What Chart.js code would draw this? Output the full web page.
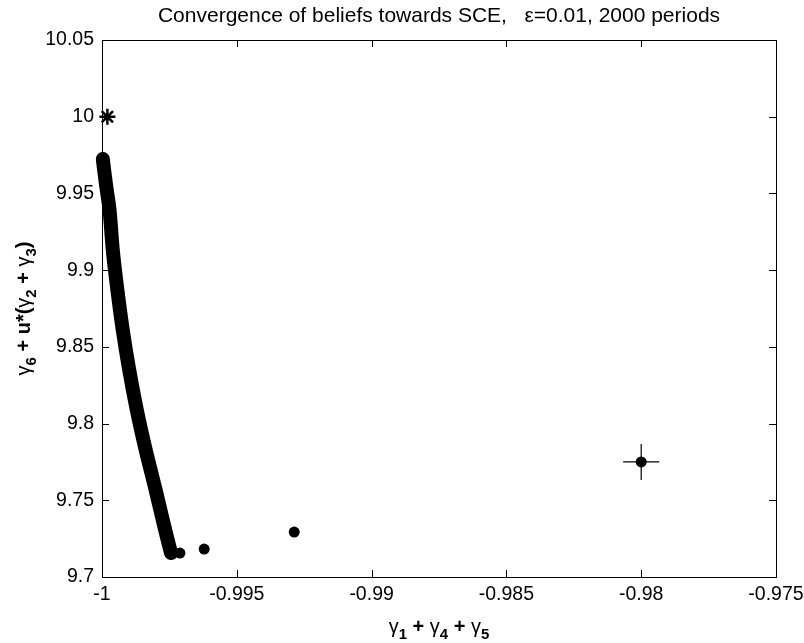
<!DOCTYPE html>
<html>
<head>
<meta charset="utf-8">
<script src="https://cdn.jsdelivr.net/npm/chart.js@4.4.1/dist/chart.umd.min.js"></script>
<style>
  html, body { margin: 0; padding: 0; background: #ffffff; }
  #wrap { width: 804px; height: 643px; }
</style>
</head>
<body>
<div id="wrap"><canvas id="c" width="804" height="643"></canvas></div>
<script>
// ---- data ----
const xTickValues = [-1, -0.995, -0.99, -0.985, -0.98, -0.975];
const xTickLabels = ['-1', '-0.995', '-0.99', '-0.985', '-0.98', '-0.975'];
const yTickValues = [9.7, 9.75, 9.8, 9.85, 9.9, 9.95, 10, 10.05];
const yTickLabels = ['9.7', '9.75', '9.8', '9.85', '9.9', '9.95', '10', '10.05'];

// dense path of beliefs (2000 periods, drawn as a thick band)
const pathX = [-0.99997, -0.99985, -0.99972, -0.99960, -0.99943, -0.99923, -0.99899, -0.99871, -0.99838, -0.99801, -0.99779, -0.99761, -0.99744];
const pathY = [9.9724, 9.9555, 9.9392, 9.9131, 9.8871, 9.8610, 9.8349, 9.8089, 9.7828, 9.7567, 9.7404, 9.7274, 9.7156];

// first few isolated belief points
const earlyX = [-0.99711, -0.99621, -0.99287, -0.98];
const earlyY = [9.7156, 9.7182, 9.7293, 9.775];

// initial belief (marked with +)
const startX = [-0.98];
const startY = [9.775];

// SCE point (marked with *)
const sceX = [-0.9998];
const sceY = [10.0];

const titleText = 'Convergence of beliefs towards SCE,   \u03B5=0.01, 2000 periods';

const zip = (xs, ys) => xs.map((x, i) => ({ x: x, y: ys[i] }));

const FONT = "'Liberation Sans', Arial, Helvetica, sans-serif";
Chart.defaults.font.family = FONT;
Chart.defaults.color = '#000';

function drawRich(ctx, segs, size) {
  let total = 0;
  const parts = segs.map(s => {
    const fs = s.sub ? Math.round(size * 0.75) : size;
    const font = (s.bold ? 'bold ' : '') + fs + 'px ' + FONT;
    ctx.font = font;
    const w = ctx.measureText(s.t).width;
    total += w;
    return { t: s.t, font: font, w: w, dy: s.sub ? size * 0.3 : 0 };
  });
  let x = -total / 2;
  ctx.textAlign = 'left';
  ctx.textBaseline = 'alphabetic';
  parts.forEach(p => {
    ctx.font = p.font;
    ctx.fillText(p.t, x, p.dy);
    x += p.w;
  });
}

const decorPlugin = {
  id: 'decor',
  afterDraw(chart) {
    const ctx = chart.ctx;
    const a = chart.chartArea;
    const xs = chart.scales.x, ys = chart.scales.y;
    ctx.save();
    ctx.strokeStyle = '#000';
    ctx.lineWidth = 1;
    ctx.strokeRect(Math.round(a.left) + 0.5, Math.round(a.top) + 0.5,
                   Math.round(a.right - a.left), Math.round(a.bottom - a.top));
    const tl = 7;
    ctx.beginPath();
    xs.ticks.forEach(t => {
      const p = Math.round(xs.getPixelForValue(t.value)) + 0.5;
      ctx.moveTo(p, a.bottom); ctx.lineTo(p, a.bottom - tl);
      ctx.moveTo(p, a.top); ctx.lineTo(p, a.top + tl);
    });
    ys.ticks.forEach(t => {
      const p = Math.round(ys.getPixelForValue(t.value)) + 0.5;
      ctx.moveTo(a.left, p); ctx.lineTo(a.left + tl, p);
      ctx.moveTo(a.right, p); ctx.lineTo(a.right - tl, p);
    });
    ctx.stroke();

    ctx.fillStyle = '#000';
    ctx.font = '21px ' + FONT;
    ctx.textAlign = 'center';
    ctx.textBaseline = 'alphabetic';
    ctx.fillText(titleText, (a.left + a.right) / 2, 22);

    ctx.save();
    ctx.translate((a.left + a.right) / 2, 633);
    drawRich(ctx, [
      { t: '\u03B3' }, { t: '1', bold: true, sub: true },
      { t: ' + ', bold: true },
      { t: '\u03B3' }, { t: '4', bold: true, sub: true },
      { t: ' + ', bold: true },
      { t: '\u03B3' }, { t: '5', bold: true, sub: true }
    ], 20);
    ctx.restore();

    ctx.save();
    ctx.translate(30, (a.top + a.bottom) / 2);
    ctx.rotate(-Math.PI / 2);
    drawRich(ctx, [
      { t: '\u03B3' }, { t: '6', bold: true, sub: true },
      { t: ' + u*(', bold: true },
      { t: '\u03B3' }, { t: '2', bold: true, sub: true },
      { t: ' + ', bold: true },
      { t: '\u03B3' }, { t: '3', bold: true, sub: true },
      { t: ')', bold: true }
    ], 20);
    ctx.restore();
    ctx.restore();
  }
};

new Chart(document.getElementById('c'), {
  type: 'scatter',
  data: {
    datasets: [
      {
        label: 'path',
        data: zip(pathX, pathY),
        showLine: true,
        borderColor: '#000',
        backgroundColor: '#000',
        borderWidth: 14,
        borderCapStyle: 'round',
        borderJoinStyle: 'round',
        pointRadius: 0,
        tension: 0.3,
        order: 3
      },
      {
        label: 'early',
        data: zip(earlyX, earlyY),
        pointStyle: 'circle',
        pointRadius: 5.5,
        backgroundColor: '#000',
        borderColor: '#000',
        borderWidth: 0,
        order: 1
      },
      {
        label: 'start',
        data: zip(startX, startY),
        pointStyle: 'cross',
        pointRadius: 18,
        borderColor: '#000',
        borderWidth: 1.2,
        order: 2
      },
      {
        label: 'SCE',
        data: zip(sceX, sceY),
        pointStyle: 'star',
        pointRadius: 8,
        borderColor: '#000',
        backgroundColor: '#000',
        borderWidth: 2.5,
        order: 0
      }
    ]
  },
  options: {
    responsive: false,
    animation: false,
    events: [],
    clip: false,
    layout: { padding: { top: 40, right: 28, left: 0, bottom: 0 } },
    plugins: { legend: { display: false }, tooltip: { enabled: false }, title: { display: false } },
    scales: {
      x: {
        type: 'linear',
        min: -1, max: -0.975,
        grid: { display: false, drawTicks: false },
        border: { display: false },
        afterBuildTicks: s => { s.ticks = xTickValues.map(v => ({ value: v })); },
        ticks: {
          autoSkip: false, maxRotation: 0, padding: 6,
          font: { size: 19.5 }, color: '#000',
          callback: (v, i) => xTickLabels[i]
        },
        afterFit: s => { s.height = 66; s.paddingLeft = 0; s.paddingRight = 0; }
      },
      y: {
        type: 'linear',
        min: 9.7, max: 10.05,
        grid: { display: false, drawTicks: false },
        border: { display: false },
        afterBuildTicks: s => { s.ticks = yTickValues.map(v => ({ value: v })); },
        ticks: {
          autoSkip: false, padding: 8,
          font: { size: 19.5 }, color: '#000',
          callback: (v, i) => yTickLabels[i]
        },
        afterFit: s => { s.width = 102; s.paddingTop = 0; s.paddingBottom = 0; }
      }
    }
  },
  plugins: [decorPlugin]
});
</script>
</body>
</html>
